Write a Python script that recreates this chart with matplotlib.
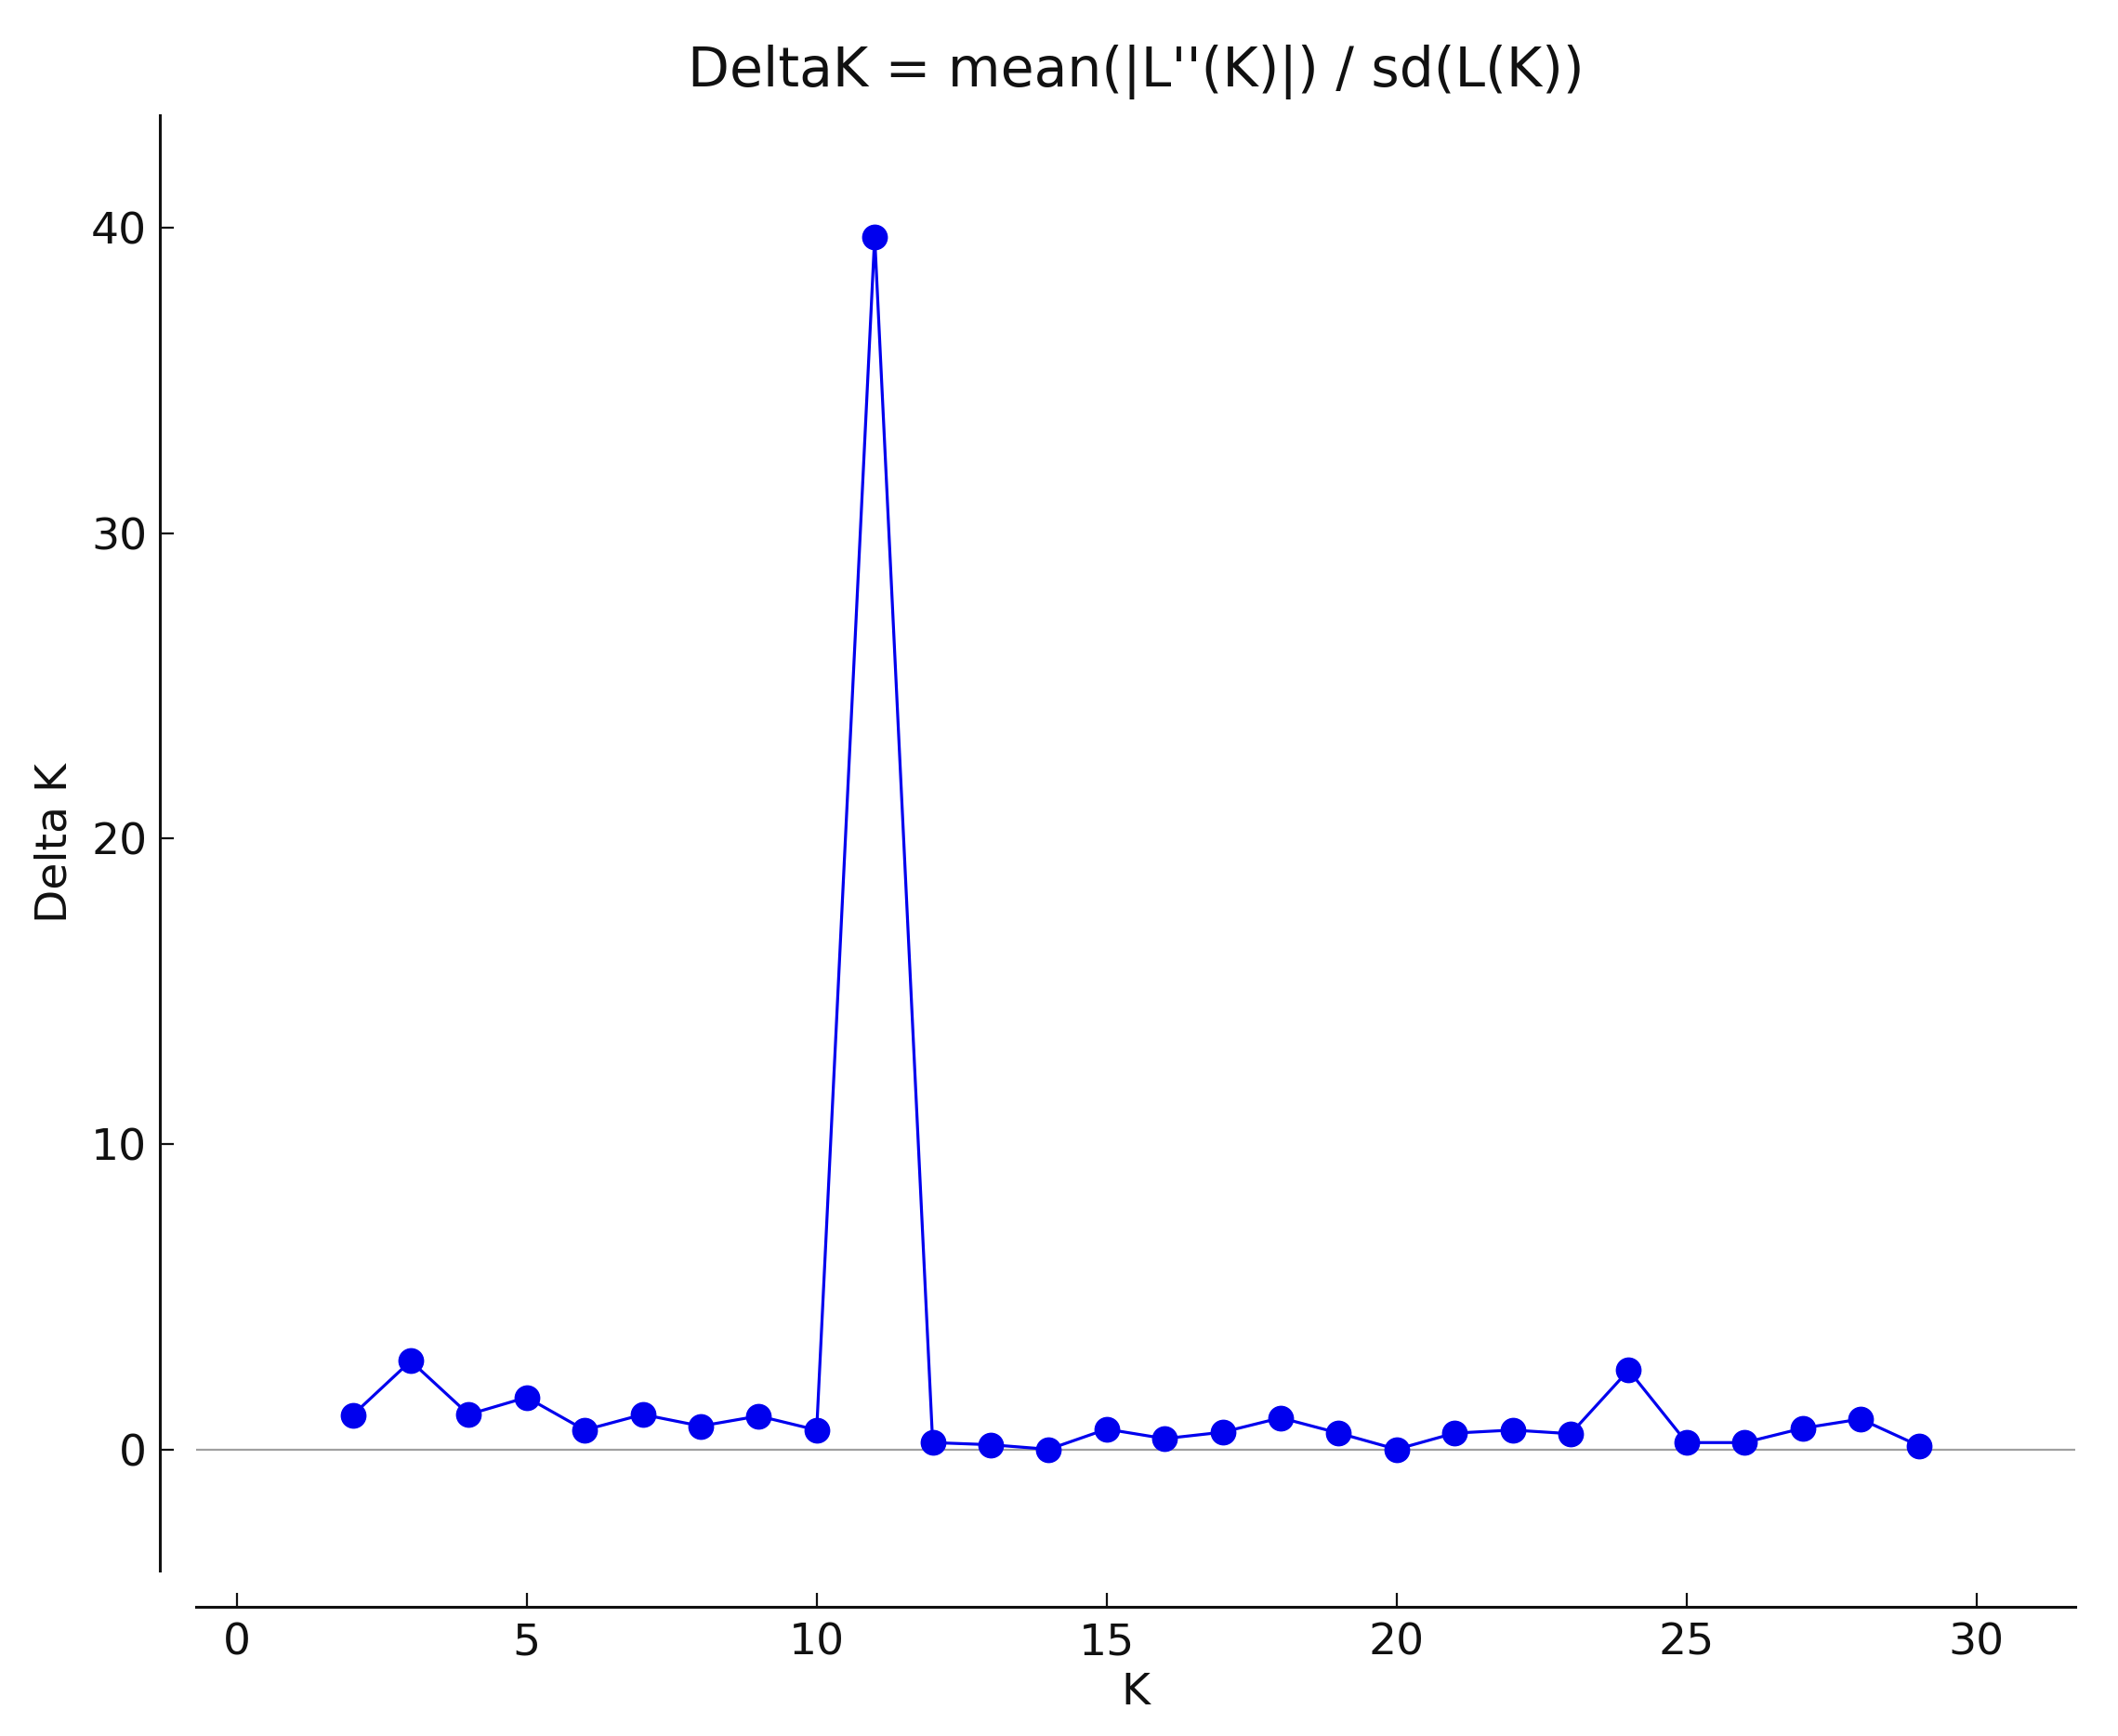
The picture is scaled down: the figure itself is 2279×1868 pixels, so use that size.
import matplotlib
matplotlib.use("Agg")
import matplotlib.pyplot as plt

K = [2, 3, 4, 5, 6, 7, 8, 9, 10, 11, 12, 13, 14, 15, 16, 17, 18, 19, 20,
     21, 22, 23, 24, 25, 26, 27, 28, 29]
delta_k = [1.14, 2.91, 1.16, 1.72, 0.65, 1.16, 0.78, 1.11, 0.65, 39.7,
           0.24, 0.17, 0.02, 0.68, 0.37, 0.58, 1.05, 0.55, 0.02, 0.55,
           0.65, 0.53, 2.61, 0.24, 0.24, 0.71, 1.01, 0.14]
x_ticks = [0, 5, 10, 15, 20, 25, 30]
y_ticks = [0, 10, 20, 30, 40]
title = "DeltaK = mean(|L''(K)|) / sd(L(K))"

plt.rcParams['font.family'] = ['DejaVu Sans']

dpi = 100
fig = plt.figure(figsize=(2279 / dpi, 1868 / dpi), dpi=dpi)
ax = fig.add_axes([211 / 2279, 1 - 1690 / 1868, (2233 - 211) / 2279, (1690 - 124) / 1868])

ax.axhline(0, color='#a0a0a0', lw=1.6, zorder=1)
ax.plot(K, delta_k, color='#0000ee', lw=2.3, marker='o', ms=19,
        markerfacecolor='#0000ee', markeredgecolor='#0000ee', zorder=3)

xmin, xmax = min(K), max(K)
ymin, ymax = min(delta_k), max(delta_k)
ax.set_xlim(xmin - 0.1 * (xmax - xmin), xmax + 0.1 * (xmax - xmin))
ax.set_ylim(ymin - 0.1 * (ymax - ymin), ymax + 0.1 * (ymax - ymin))
ax.set_xticks(x_ticks)
ax.set_yticks(y_ticks)

for side in ['top', 'right']:
    ax.spines[side].set_visible(False)
ax.spines['left'].set_position(('outward', 28))
ax.spines['bottom'].set_position(('outward', 28))
for side in ['left', 'bottom']:
    ax.spines[side].set_linewidth(2.2)
    ax.spines[side].set_color('#111111')

ax.tick_params(axis='both', direction='in', length=11, width=1.6,
               labelsize=34, colors='#111111')
ax.tick_params(axis='y', pad=10)
ax.tick_params(axis='x', pad=12)

ax.set_title(title, fontsize=42, pad=22, color='#111111')
ax.set_xlabel('K', fontsize=34, labelpad=6, color='#111111')
ax.set_ylabel('Delta K', fontsize=34, labelpad=12, color='#111111')

fig.savefig('out.png', dpi=dpi, facecolor='white')
